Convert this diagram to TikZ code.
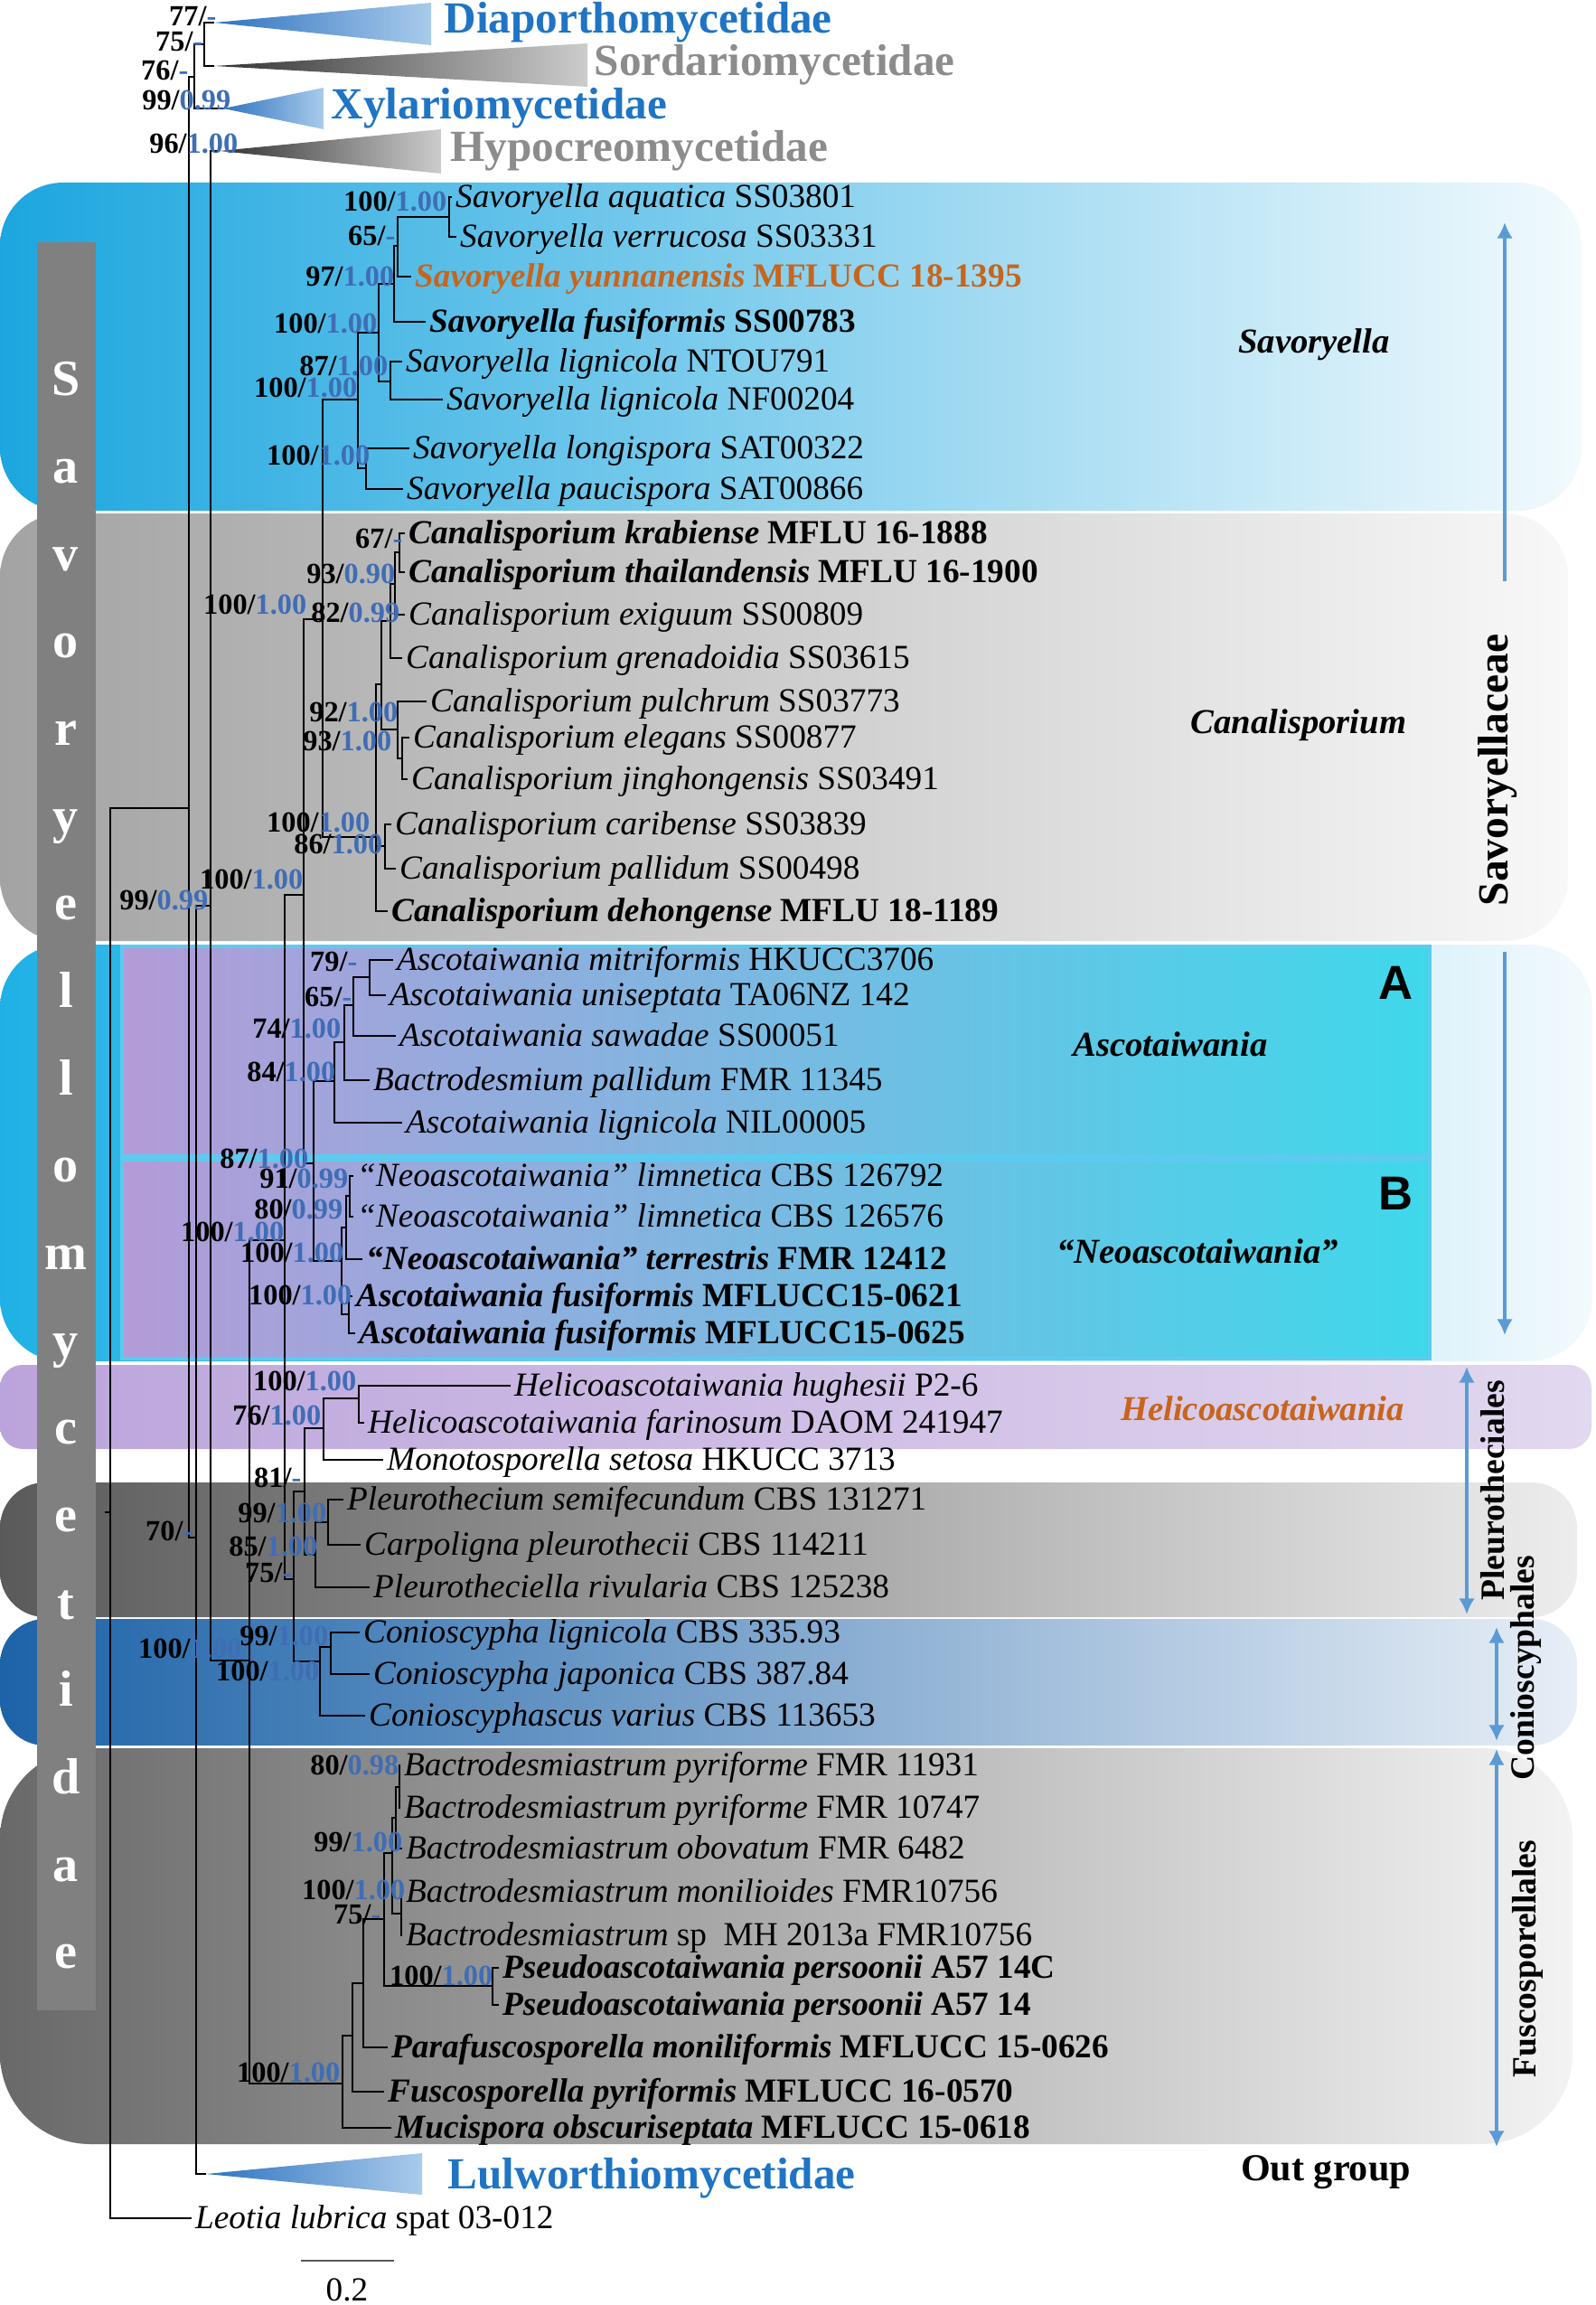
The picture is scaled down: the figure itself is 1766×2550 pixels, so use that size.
\documentclass[tikz,border=0pt]{standalone}
\usepackage{fontspec}
\setmainfont{Liberation Serif}
\newfontfamily\sansbold{Liberation Sans}
\usetikzlibrary{arrows.meta}
\tikzset{>={Latex[width=5pt,length=5pt]}}
\definecolor{bsblue}{HTML}{3F6DB5}
\definecolor{cladeblue}{HTML}{1F74C4}
\definecolor{cladegray}{HTML}{8C8C8C}
\definecolor{orng}{HTML}{C8641C}
\definecolor{arrblue}{HTML}{5B9BD5}
\definecolor{bargray}{HTML}{808080}
\definecolor{savL}{HTML}{1CA6DF}
\definecolor{savM}{HTML}{7DCBEE}
\definecolor{savR}{HTML}{F2FAFD}
\definecolor{canL}{HTML}{A3A3A3}
\definecolor{canM}{HTML}{C9C9C9}
\definecolor{canR}{HTML}{F8F8F8}
\definecolor{ascL}{HTML}{1FB1E5}
\definecolor{ascM}{HTML}{8CD3F0}
\definecolor{ascR}{HTML}{F3FAFD}
\definecolor{boxL}{HTML}{B39BD8}
\definecolor{boxM}{HTML}{CDB9E3}
\definecolor{boxR}{HTML}{3FD8EB}
\definecolor{helL}{HTML}{BBA4DB}
\definecolor{helM}{HTML}{CDBBE6}
\definecolor{helR}{HTML}{E2D8EF}
\definecolor{plL}{HTML}{5A5A5A}
\definecolor{plM}{HTML}{A5A5A5}
\definecolor{plR}{HTML}{EDEDED}
\definecolor{coL}{HTML}{1D63A8}
\definecolor{coM}{HTML}{7EA5CF}
\definecolor{coR}{HTML}{E7EEF6}
\definecolor{fuL}{HTML}{696969}
\definecolor{fuM}{HTML}{ADADAD}
\definecolor{fuR}{HTML}{F3F3F3}
\definecolor{triblueL}{HTML}{2F73C0}
\definecolor{triblueR}{HTML}{A9CBEB}
\definecolor{trigrayL}{HTML}{333333}
\definecolor{trigrayR}{HTML}{CCCCCC}
\definecolor{boxedge}{HTML}{5CCBEF}
\newcommand{\BLUE}[1]{\textcolor{bsblue}{#1}}

\tikzset{
  taxon/.style={anchor=west, inner sep=1pt, text height=0.66em, text depth=0pt,
    font=\fontsize{10.6}{12}\selectfont},
  taxonb/.style={taxon, font=\fontsize{10.6}{12}\selectfont\bfseries},
  supp/.style={anchor=east, inner sep=0pt, text height=0.66em, text depth=0pt,
    font=\fontsize{9.2}{10}\selectfont\bfseries},
  bigclade/.style={anchor=west, inner sep=0pt, text height=0.66em, text depth=0pt,
    font=\fontsize{14}{16}\selectfont\bfseries},
  genus/.style={font=\fontsize{11}{13}\selectfont\bfseries\itshape},
  ordlabel/.style={rotate=90, font=\fontsize{10.7}{12}\selectfont\bfseries},
  barletter/.style={text=white, text height=0.7em, text depth=0.2em,
    font=\fontsize{16}{18}\selectfont\bfseries},
  branch/.style={line width=0.5pt},
  famarrow/.style={arrblue, line width=0.9pt},
  boxline/.style={draw=boxedge, line width=1.2pt},
}

\begin{document}
\begin{tikzpicture}[x=0.1mm, y=-0.1mm]

  \newcommand\brn[3]{\draw[branch] (#2) -| (#1 |- #3) -- (#3);}
  \newcommand\brnn[4]{\draw[branch] (#2) -| (#1 |- #4) -- (#4);
    \draw[branch] (#1 |- #3) -- (#3);}
  \newcommand\bsv[4]{\node[supp] (#1) at (#2) {#3/\BLUE{#4}};}

  \useasboundingbox (0,0) rectangle (1766,2550); %% page

  %% coloured bands
  \shade[left color=savL, middle color=savM, right color=savR,
    rounded corners=7mm] (0,202) rectangle (1750,565);
  \shade[left color=canL, middle color=canM, right color=canR,
    rounded corners=7mm] (0,568) rectangle (1735,1041);
  \shade[left color=ascL, middle color=ascM, right color=ascR,
    rounded corners=7mm] (0,1045) rectangle (1762,1506);
  \shade[left color=boxL, middle color=boxM, right color=boxR]
    (135,1047) rectangle (1582,1279);
  \draw[boxline] (135,1047) rectangle (1582,1279);
  \shade[left color=boxL, middle color=boxM, right color=boxR]
    (135,1283) rectangle (1582,1503);
  \draw[boxline] (135,1283) rectangle (1582,1503);
  \shade[left color=helL, middle color=helM, right color=helR,
    rounded corners=2.5mm] (0,1510) rectangle (1761,1603);
  \shade[left color=plL, middle color=plM, right color=plR,
    rounded corners=5mm] (0,1640) rectangle (1745,1789);
  \shade[left color=coL, middle color=coM, right color=coR,
    rounded corners=5mm] (0,1791) rectangle (1745,1931);
  \shade[left color=fuL, middle color=fuM, right color=fuR,
    rounded corners=10mm] (0,1934) rectangle (1740,2372);

  \fill[bargray] (41,268) rectangle (106,2224);
  \foreach \l [count=\i from 0] in {S,a,v,o,r,y,e,l,l,o,m,y,c,e,t,i,d,a,e}
    \node[barletter] (bl\i) at (73,{429+96.67*\i}) {\l};

  %% collapsed clades
  \coordinate (diap) at (237,25);
  \coordinate (sord) at (237,73);
  \coordinate (xyl) at (247,120);
  \coordinate (hyp) at (243,167);
  \coordinate (lulw) at (228,2405);
  \shade[left color=triblueL, right color=triblueR] (diap) -- (477,3) -- (477,50) -- cycle;
  \shade[left color=trigrayL, right color=trigrayR] (sord) -- (650,48) -- (650,96) -- cycle;
  \shade[left color=triblueL, right color=triblueR] (xyl) -- (358,97) -- (358,143) -- cycle;
  \shade[left color=trigrayL, right color=trigrayR] (hyp) -- (488,143) -- (488,192) -- cycle;
  \shade[left color=triblueL, right color=triblueR] (lulw) -- (467,2382) -- (467,2428) -- cycle;
  \node[bigclade, text=cladeblue] (diapt) at (491,25) {Diaporthomycetidae};
  \node[bigclade, text=cladegray] (sordt) at (657,72) {Sordariomycetidae};
  \node[bigclade, text=cladeblue] (xylt) at (366,120) {Xylariomycetidae};
  \node[bigclade, text=cladegray] (hypt) at (498,167) {Hypocreomycetidae};
  \node[bigclade, text=cladeblue] (lulwt) at (495,2410) {Lulworthiomycetidae};

  %% taxa
  \node[taxon] (t1) at (500,218) {\textit{Savoryella aquatica} SS03801};
  \node[taxon] (t2) at (505,262) {\textit{Savoryella verrucosa} SS03331};
  \node[taxonb, text=orng] (t3) at (455,306) {\textit{Savoryella yunnanensis} MFLUCC 18-1395};
  \node[taxonb] (t4) at (471,356) {\textit{Savoryella fusiformis} SS00783};
  \node[taxon] (t5) at (445,400) {\textit{Savoryella lignicola} NTOU791};
  \node[taxon] (t6) at (490,442) {\textit{Savoryella lignicola} NF00204};
  \node[taxon] (t7) at (453,496) {\textit{Savoryella longispora} SAT00322};
  \node[taxon] (t8) at (446,541) {\textit{Savoryella paucispora} SAT00866};
  \node[taxonb] (t9) at (448,590) {\textit{Canalisporium krabiense} MFLU 16-1888};
  \node[taxonb] (t10) at (448,633) {\textit{Canalisporium thailandensis} MFLU 16-1900};
  \node[taxon] (t11) at (448,680) {\textit{Canalisporium exiguum} SS00809};
  \node[taxon] (t12) at (445,728) {\textit{Canalisporium grenadoidia} SS03615};
  \node[taxon] (t13) at (472,776) {\textit{Canalisporium pulchrum} SS03773};
  \node[taxon] (t14) at (453,816) {\textit{Canalisporium elegans} SS00877};
  \node[taxon] (t15) at (451,862) {\textit{Canalisporium jinghongensis} SS03491};
  \node[taxon] (t16) at (433,912) {\textit{Canalisporium caribense} SS03839};
  \node[taxon] (t17) at (438,961) {\textit{Canalisporium pallidum} SS00498};
  \node[taxonb] (t18) at (429,1008) {\textit{Canalisporium dehongense} MFLU 18-1189};
  \node[taxon] (t19) at (435,1062) {\textit{Ascotaiwania mitriformis} HKUCC3706};
  \node[taxon] (t20) at (427,1101) {\textit{Ascotaiwania uniseptata} TA06NZ 142};
  \node[taxon] (t21) at (438,1146) {\textit{Ascotaiwania sawadae} SS00051};
  \node[taxon] (t22) at (409,1195) {\textit{Bactrodesmium pallidum} FMR 11345};
  \node[taxon] (t23) at (445,1242) {\textit{Ascotaiwania lignicola} NIL00005};
  \node[taxon] (t24) at (391,1301) {\textit{“Neoascotaiwania” limnetica} CBS 126792};
  \node[taxon] (t25) at (391,1346) {\textit{“Neoascotaiwania” limnetica} CBS 126576};
  \node[taxonb] (t26) at (401,1393) {\textit{“Neoascotaiwania” terrestris} FMR 12412};
  \node[taxonb] (t27) at (390,1434) {\textit{Ascotaiwania fusiformis} MFLUCC15-0621};
  \node[taxonb] (t28) at (393,1475) {\textit{Ascotaiwania fusiformis} MFLUCC15-0625};
  \node[taxon] (t29) at (565,1533) {\textit{Helicoascotaiwania hughesii} P2-6};
  \node[taxon] (t30) at (403,1574) {\textit{Helicoascotaiwania farinosum} DAOM 241947};
  \node[taxon] (t31) at (424,1615) {\textit{Monotosporella setosa} HKUCC 3713};
  \node[taxon] (t32) at (380,1659) {\textit{Pleurothecium semifecundum} CBS 131271};
  \node[taxon] (t33) at (399,1709) {\textit{Carpoligna pleurothecii} CBS 114211};
  \node[taxon] (t34) at (409,1756) {\textit{Pleurotheciella rivularia} CBS 125238};
  \node[taxon] (t35) at (398,1806) {\textit{Conioscypha lignicola} CBS 335.93};
  \node[taxon] (t36) at (409,1852) {\textit{Conioscypha japonica} CBS 387.84};
  \node[taxon] (t37) at (404,1898) {\textit{Conioscyphascus varius} CBS 113653};
  \node[taxon] (t38) at (443,1953) {\textit{Bactrodesmiastrum pyriforme} FMR 11931};
  \node[taxon] (t39) at (443,2000) {\textit{Bactrodesmiastrum pyriforme} FMR 10747};
  \node[taxon] (t40) at (445,2045) {\textit{Bactrodesmiastrum obovatum} FMR 6482};
  \node[taxon] (t41) at (445,2093) {\textit{Bactrodesmiastrum monilioides} FMR10756};
  \node[taxon] (t42) at (445,2141) {\textit{Bactrodesmiastrum} sp\ \ MH 2013a FMR10756};
  \node[taxonb] (t43) at (552,2177) {\textit{Pseudoascotaiwania persoonii} A57 14C};
  \node[taxonb] (t44) at (552,2218) {\textit{Pseudoascotaiwania persoonii} A57 14};
  \node[taxonb] (t45) at (429,2265) {\textit{Parafuscosporella moniliformis} MFLUCC 15-0626};
  \node[taxonb] (t46) at (425,2314) {\textit{Fuscosporella pyriformis} MFLUCC 16-0570};
  \node[taxonb] (t47) at (433,2354) {\textit{Mucispora obscuriseptata} MFLUCC 15-0618};
  \node[taxon] (leo) at (212,2454) {\textit{Leotia lubrica} spat 03-012};

  %% internal nodes
  \coordinate (nA) at (226,49);    \coordinate (nB) at (215,85);
  \coordinate (nAll) at (209,894); \coordinate (root) at (122,1673);
  \coordinate (n70) at (217,1701); \coordinate (n99) at (233,1002);
  \coordinate (n276) at (276,1837); \coordinate (n315) at (315,1372);
  \coordinate (n336) at (336,990); \coordinate (n357) at (357,685);
  \coordinate (nSav) at (396,442); \coordinate (nSF) at (419,368);
  \coordinate (nFus) at (436,314); \coordinate (nAVY) at (440,272);
  \coordinate (nAV) at (497,240);  \coordinate (nLig) at (432,422);
  \coordinate (nLP) at (405,518);
  \coordinate (nCan) at (416,926); \coordinate (nC6) at (422,757);
  \coordinate (nC3) at (432,687);  \coordinate (nC2) at (437,646);
  \coordinate (nC1) at (442,611);  \coordinate (nC5) at (440,807);
  \coordinate (nC4) at (445,839);  \coordinate (nC7) at (426,936);
  \coordinate (nAB) at (347,1287); \coordinate (nA84) at (370,1196);
  \coordinate (nA74) at (381,1153); \coordinate (nA65) at (391,1112);
  \coordinate (nA79) at (409,1081);
  \coordinate (nBB) at (378,1395); \coordinate (nB80) at (383,1358);
  \coordinate (nB91) at (387,1323); \coordinate (nB100) at (386,1454);
  \coordinate (nHPC) at (325,1747); \coordinate (nHP) at (337,1650);
  \coordinate (nHM) at (358,1580); \coordinate (nHH) at (397,1547);
  \coordinate (nPl) at (349,1720); \coordinate (nSC) at (363,1684);
  \coordinate (nCo) at (354,1838); \coordinate (nLJ) at (366,1822);
  \coordinate (nF8) at (379,2305); \coordinate (nF7) at (390,2252);
  \coordinate (nF6) at (402,2194); \coordinate (nF5) at (425,2123);
  \coordinate (nPs) at (545,2197); \coordinate (nF4) at (434,2050);
  \coordinate (nF2) at (438,2011); \coordinate (nF1) at (442,1977);
  \coordinate (nF3) at (444,2117);

  %% branches
  \brn{nA}{diap}{sord}
  \brn{nB}{nA}{xyl}
  \brn{nAll}{nB}{n70}
  \brn{root}{nAll}{leo.west}
  \draw[branch] (root) -- ++(-6,0);
  \brn{n70}{n99}{lulw}
  \brn{n99}{hyp}{n276}
  \brn{n276}{n315}{nF8}
  \brn{n315}{n336}{nHPC}
  \brn{n336}{n357}{nAB}
  \brn{n357}{nSav}{nCan}
  \brn{nSav}{nSF}{nLP}
  \brn{nSF}{nFus}{nLig}
  \brn{nFus}{nAVY}{t4.west}
  \brn{nAVY}{nAV}{t3.west}
  \brn{nAV}{t1.west}{t2.west}
  \brn{nLig}{t5.west}{t6.west}
  \brn{nLP}{t7.west}{t8.west}
  \brnn{nCan}{nC6}{nC7}{t18.west}
  \brn{nC6}{nC3}{nC5}
  \brn{nC3}{nC2}{t12.west}
  \brn{nC2}{nC1}{t11.west}
  \brn{nC1}{t9.west}{t10.west}
  \brn{nC5}{t13.west}{nC4}
  \brn{nC4}{t14.west}{t15.west}
  \brn{nC7}{t16.west}{t17.west}
  \brn{nAB}{nA84}{nBB}
  \brn{nA84}{nA74}{t23.west}
  \brn{nA74}{nA65}{t22.west}
  \brn{nA65}{nA79}{t21.west}
  \brn{nA79}{t19.west}{t20.west}
  \brn{nBB}{nB80}{nB100}
  \brn{nB80}{nB91}{t26.west}
  \brn{nB91}{t24.west}{t25.west}
  \brn{nB100}{t27.west}{t28.west}
  \brn{nHPC}{nHP}{nCo}
  \brn{nHP}{nHM}{nPl}
  \brn{nHM}{nHH}{t31.west}
  \brn{nHH}{t29.west}{t30.west}
  \brn{nPl}{nSC}{t34.west}
  \brn{nSC}{t32.west}{t33.west}
  \brn{nCo}{nLJ}{t37.west}
  \brn{nLJ}{t35.west}{t36.west}
  \brn{nF8}{nF7}{t47.west}
  \brn{nF7}{nF6}{t46.west}
  \brn{nF6}{nF5}{t45.west}
  \brn{nF5}{nF4}{nPs}
  \brn{nPs}{t43.west}{t44.west}
  \brn{nF4}{nF2}{nF3}
  \brn{nF2}{nF1}{t40.west}
  \brn{nF1}{t38.west}{t39.west}
  \brn{nF3}{t41.west}{t42.west}

  %% support values
  \bsv{s1}{240,17}{77}{-}      \bsv{s2}{225,45}{75}{-}
  \bsv{s3}{209,77}{76}{-}      \bsv{s4}{256,110}{99}{0.99}
  \bsv{s5}{264,158}{96}{1.00}
  \bsv{s6}{495,222}{100}{1.00} \bsv{s7}{438,260}{65}{-}
  \bsv{s8}{437,305}{97}{1.00}  \bsv{s9}{418,357}{100}{1.00}
  \bsv{s10}{430,404}{87}{1.00} \bsv{s11}{396,428}{100}{1.00}
  \bsv{s12}{410,503}{100}{1.00}
  \bsv{s13}{446,595}{67}{-}    \bsv{s14}{438,634}{93}{0.90}
  \bsv{s15}{340,668}{100}{1.00} \bsv{s16}{443,677}{82}{0.99}
  \bsv{s17}{441,787}{92}{1.00} \bsv{s18}{434,819}{93}{1.00}
  \bsv{s19}{410,909}{100}{1.00} \bsv{s20}{424,933}{86}{1.00}
  \bsv{s21}{336,972}{100}{1.00} \bsv{s22}{231,995}{99}{0.99}
  \bsv{s23}{396,1063}{79}{-}   \bsv{s24}{390,1102}{65}{-}
  \bsv{s25}{378,1137}{74}{1.00} \bsv{s26}{372,1185}{84}{1.00}
  \bsv{s27}{342,1281}{87}{1.00} \bsv{s28}{386,1303}{91}{0.99}
  \bsv{s29}{380,1337}{80}{0.99} \bsv{s30}{315,1362}{100}{1.00}
  \bsv{s31}{381,1385}{100}{1.00} \bsv{s32}{390,1432}{100}{1.00}
  \bsv{s33}{395,1527}{100}{1.00} \bsv{s34}{356,1565}{76}{1.00}
  \bsv{s35}{334,1634}{81}{-}   \bsv{s36}{362,1673}{99}{1.00}
  \bsv{s37}{214,1693}{70}{-}   \bsv{s38}{352,1710}{85}{1.00}
  \bsv{s39}{324,1739}{75}{-}   \bsv{s40}{364,1809}{99}{1.00}
  \bsv{s41}{268,1823}{100}{1.00} \bsv{s42}{354,1848}{100}{1.00}
  \bsv{s43}{442,1952}{80}{0.98} \bsv{s44}{446,2037}{99}{1.00}
  \bsv{s45}{449,2090}{100}{1.00} \bsv{s46}{422,2117}{75}{-}
  \bsv{s47}{546,2185}{100}{1.00} \bsv{s48}{377,2292}{100}{1.00}

  %% group labels
  \node[genus] (gSav) at (1454,381) {Savoryella};
  \node[genus] (gCan) at (1437,802) {Canalisporium};
  \node[genus] (gAsc) at (1295,1155) {Ascotaiwania};
  \node[genus] (gNeo) at (1325,1384) {“Neoascotaiwania”};
  \node[genus, text=orng] (gHel) at (1397,1558) {Helicoascotaiwania};
  \node[font=\sansbold\fontsize{15}{17}\selectfont\bfseries] (cA) at (1545,1087) {A};
  \node[font=\sansbold\fontsize{15}{17}\selectfont\bfseries] (cB) at (1545,1320) {B};
  \node[font=\fontsize{12}{14}\selectfont\bfseries] (outg) at (1467,2403) {Out group};

  %% family and order ranges
  \coordinate (fa1) at (1665,643);  \coordinate (fa2) at (1665,246);
  \coordinate (fa3) at (1665,1053); \coordinate (fa4) at (1665,1477);
  \draw[famarrow, ->] (fa1) -- (fa2);
  \draw[famarrow, ->] (fa3) -- (fa4);
  \node[rotate=90, font=\fontsize{13.5}{15}\selectfont\bfseries] (fam) at (1657,852) {Savoryellaceae};
  \coordinate (pl1) at (1623,1512); \coordinate (pl2) at (1623,1786);
  \draw[famarrow, <->] (pl1) -- (pl2);
  \node[ordlabel] (plt) at (1652,1649) {Pleurotheciales};
  \coordinate (co1) at (1656,1800); \coordinate (co2) at (1656,1926);
  \draw[famarrow, <->] (co1) -- (co2);
  \node[ordlabel] (cot) at (1688,1845) {Conioscyphales};
  \coordinate (fu1) at (1656,1935); \coordinate (fu2) at (1656,2375);
  \draw[famarrow, <->] (fu1) -- (fu2);
  \node[ordlabel] (fut) at (1690,2167) {Fuscosporellales};

  %% scale bar
  \coordinate (sb1) at (333,2501); \coordinate (sb2) at (436,2501);
  \draw[black!65, line width=0.8pt] (sb1) -- (sb2);
  \node[font=\fontsize{10.6}{12}\selectfont] (sbt) at (384,2533) {0.2};

\end{tikzpicture}
\end{document}
